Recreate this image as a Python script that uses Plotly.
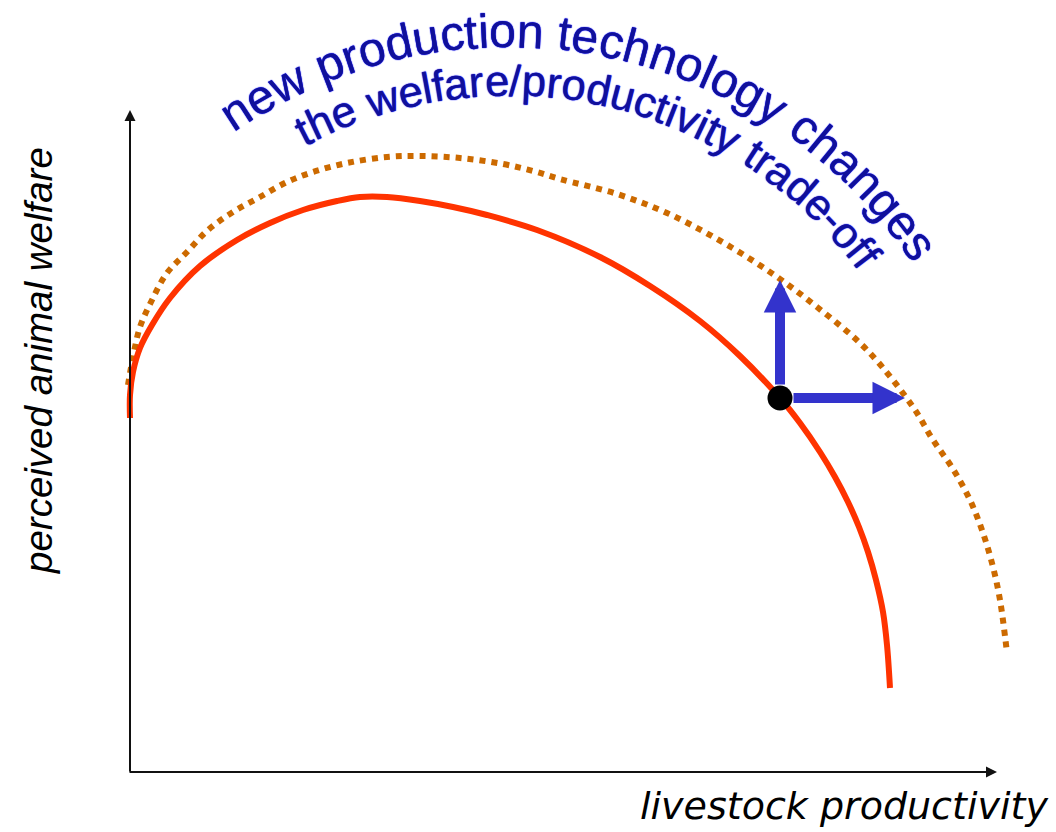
import math
import plotly.graph_objects as go

# ---- data (arbitrary units: productivity, welfare) ----
current_prod = [0.00, 0.00, 0.03, 0.10, 0.22, 0.40, 0.70, 1.07, 1.40, 1.73, 2.07, 2.30, 2.57, 2.90,
                3.23, 3.57, 4.07, 4.70, 5.20, 5.70, 6.10, 6.50, 6.70, 6.90, 7.05, 7.18, 7.29, 7.38,
                7.46, 7.53, 7.57, 7.60]
current_welf = [3.54, 3.77, 4.00, 4.24, 4.47, 4.74, 5.06, 5.32, 5.49, 5.62, 5.71, 5.75, 5.75, 5.71,
                5.65, 5.57, 5.42, 5.15, 4.86, 4.51, 4.16, 3.74, 3.49, 3.20, 2.95, 2.70, 2.45, 2.20,
                1.92, 1.60, 1.27, 0.84]

new_prod = [-0.02, 0.03, 0.10, 0.22, 0.37, 0.57, 0.78, 1.03, 1.30, 1.57, 1.83, 2.17, 2.57, 2.90, 3.30,
            3.73, 4.03, 4.30, 4.87, 5.37, 5.87, 6.37, 6.87, 7.37, 7.83, 8.03, 8.23, 8.40, 8.53, 8.63,
            8.70, 8.77]
new_welf = [3.87, 4.15, 4.45, 4.72, 4.99, 5.20, 5.42, 5.60, 5.75, 5.90, 6.00, 6.09, 6.15, 6.16, 6.14,
            6.08, 6.01, 5.93, 5.78, 5.59, 5.33, 5.02, 4.65, 4.22, 3.65, 3.32, 3.03, 2.72, 2.39, 2.05,
            1.72, 1.19]

point_prod = [6.50]
point_welf = [3.74]

shift_tail_prod = [6.50, 6.62]
shift_tail_welf = [3.86, 3.74]
shift_head_prod = [6.50, 7.75]
shift_head_welf = [4.92, 3.74]

axis_origin = [-0.02, 0.0]
axis_x_end = 8.67
axis_y_end = 6.62

title_lines = ["new production technology changes",
               "the welfare/productivity trade-off"]
x_label = "livestock productivity"
y_label = "perceived animal welfare"

W, H = 1056, 832

fig = go.Figure()
fig.add_trace(go.Scatter(x=new_prod, y=new_welf, mode="lines",
                         line=dict(color="#cc6a00", width=6, dash="6px,6px", shape="spline"),
                         hoverinfo="skip"))
fig.add_trace(go.Scatter(x=current_prod, y=current_welf, mode="lines",
                         line=dict(color="#ff3300", width=6, shape="spline"),
                         hoverinfo="skip"))

annotations = []
# axes with arrows
annotations.append(dict(x=axis_x_end, y=axis_origin[1], ax=axis_origin[0], ay=axis_origin[1],
                        xref="x", yref="y", axref="x", ayref="y", text="", showarrow=True,
                        arrowhead=2, arrowsize=1.1, arrowwidth=2, arrowcolor="#111111"))
annotations.append(dict(x=0.0, y=axis_y_end, ax=0.0, ay=axis_origin[1] - 0.01,
                        xref="x", yref="y", axref="x", ayref="y", text="", showarrow=True,
                        arrowhead=2, arrowsize=1.1, arrowwidth=2, arrowcolor="#111111"))
# blue shift arrows
for tx, ty, hx, hy in zip(shift_tail_prod, shift_tail_welf, shift_head_prod, shift_head_welf):
    annotations.append(dict(x=hx, y=hy, ax=tx, ay=ty, xref="x", yref="y", axref="x", ayref="y",
                            text="", showarrow=True, arrowhead=2, arrowsize=0.65,
                            arrowwidth=10, arrowcolor="#3333cc"))

# axis labels
annotations.append(dict(x=844 / W, y=1 - 806 / H, xref="paper", yref="paper", text=x_label,
                        showarrow=False, xanchor="center", yanchor="middle",
                        font=dict(family="DejaVu Sans", size=38, color="#000000", style="italic")))
annotations.append(dict(x=38 / W, y=1 - 361 / H, xref="paper", yref="paper", text=y_label,
                        showarrow=False, xanchor="center", yanchor="middle", textangle=-90,
                        font=dict(family="Liberation Sans", size=38.5, color="#000000", style="italic")))

# curved title text (characters placed along arcs)
ARIAL = {'a': 556, 'b': 556, 'c': 500, 'd': 556, 'e': 556, 'f': 278, 'g': 556, 'h': 556, 'i': 222,
         'j': 222, 'k': 500, 'l': 222, 'm': 833, 'n': 556, 'o': 556, 'p': 556, 'q': 556, 'r': 333,
         's': 500, 't': 278, 'u': 556, 'v': 500, 'w': 722, 'x': 500, 'y': 500, 'z': 500, ' ': 278,
         '/': 278, '-': 333}
CX, CY = 509, 531
arcs = [dict(R=484, start=-34.7, size=48.3), dict(R=435, start=-28.0, size=43.5)]
for line, arc in zip(title_lines, arcs):
    s = arc["size"]
    R = arc["R"]
    pos = math.radians(arc["start"]) * R
    rc = R + 0.35 * s
    for ch in line:
        w = ARIAL[ch] / 1000 * s
        if ch != ' ':
            th = (pos + w / 2) / R
            px = CX + rc * math.sin(th)
            py = CY - rc * math.cos(th)
            annotations.append(dict(x=px / W, y=1 - py / H, xref="paper", yref="paper", text=ch,
                                    showarrow=False, xanchor="center", yanchor="middle",
                                    textangle=math.degrees(th),
                                    font=dict(family="Liberation Sans", size=s, color="#10109a",
                                              shadow="0px 0px 1px #2020ff, 0px 0px 1px #2020ff")))
        pos += w

fig.add_trace(go.Scatter(x=point_prod, y=point_welf, mode="markers",
                         marker=dict(color="#000000", size=25), hoverinfo="skip"))

fig.update_layout(
    width=W, height=H, margin=dict(l=0, r=0, t=0, b=0),
    paper_bgcolor="white", plot_bgcolor="white", showlegend=False,
    xaxis=dict(range=[-1.30, 9.26], visible=False, fixedrange=True),
    yaxis=dict(range=[-0.60, 7.72], visible=False, fixedrange=True),
    annotations=annotations,
)
fig.write_html("out.html", config={"displayModeBar": False},
               post_script="document.body.style.margin='0px';document.body.style.overflow='hidden';")
